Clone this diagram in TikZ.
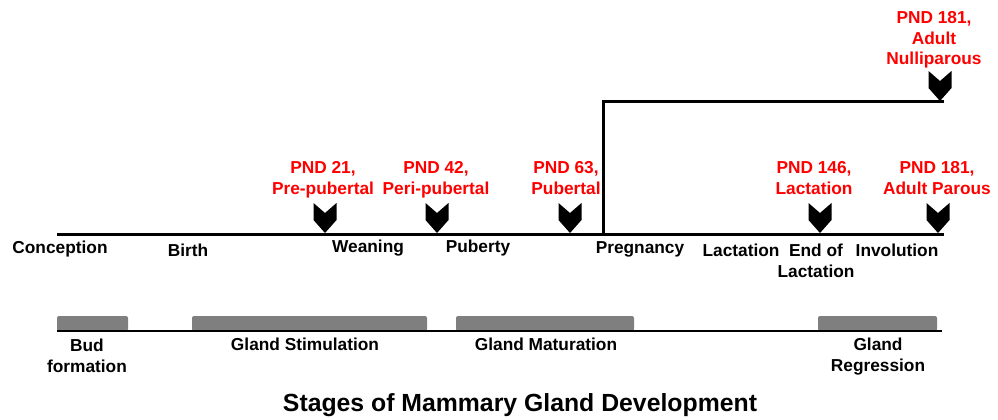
\documentclass[tikz,border=0pt]{standalone}
\usepackage{fontspec}
\setmainfont{Liberation Sans}
\definecolor{bargray}{HTML}{7F7F7F}
\tikzset{
  lbl/.style={font=\bfseries\fontsize{17.3}{20.5}\selectfont, align=center, inner sep=0pt, anchor=base},
  pnd/.style={lbl, text=red},
  ttl/.style={font=\bfseries\fontsize{24.8}{28}\selectfont, inner sep=0pt, anchor=base},
  axis/.style={line width=3pt},
  baseaxis/.style={line width=2.6pt},
  gbar/.style={fill=bargray, rounded corners=2pt},
  pics/chev/.style={code={\fill[black] (-11.5,0) -- (0,10) -- (11.5,0) -- (11.5,17) -- (0,30) -- (-11.5,17) -- cycle;}}
}
\begin{document}
\begin{tikzpicture}[x=1pt,y=-1pt]
\useasboundingbox (0,0) rectangle (998,420);
% timeline
\coordinate (tl0) at (57,234);
\coordinate (tl1) at (944,234);
\coordinate (pv) at (603,234);
\coordinate (pu) at (603,101);
\coordinate (up1) at (944,101);
\draw[axis] (tl0) -- (tl1);
\draw[axis, line join=miter] (pv) -- (pu) -- (up1);
% chevrons
\pic (c21) at (325,203) {chev};
\pic (c42) at (437,203) {chev};
\pic (c63) at (570,203) {chev};
\pic (c146) at (820,203) {chev};
\pic (c181p) at (938,203) {chev};
\pic (c181n) at (940,71) {chev};
% red labels (anchor = baseline of last line)
\node[pnd] (p21) at (323,194) {PND 21,\\Pre-pubertal};
\node[pnd] (p42) at (436,194) {PND 42,\\Peri-pubertal};
\node[pnd] (p63) at (566,194) {PND 63,\\Pubertal};
\node[pnd] (p146) at (814,194) {PND 146,\\Lactation};
\node[pnd] (p181p) at (937,194) {PND 181,\\Adult Parous};
\node[pnd] (p181n) at (934,65) {PND 181,\\Adult\\Nulliparous};
% black event labels
\node[lbl] (conc) at (60,253) {Conception};
\node[lbl] (birth) at (188,256) {Birth};
\node[lbl] (wean) at (368,252) {Weaning};
\node[lbl] (pub) at (478,252) {Puberty};
\node[lbl] (preg) at (640,253) {Pregnancy};
\node[lbl] (lact) at (741,256) {Lactation};
\node[lbl] (endl) at (816,277) {End of\\Lactation};
\node[lbl] (invol) at (897,256) {Involution};
% stage bars
\path[gbar] (57,316) rectangle (128,331);
\path[gbar] (192,316) rectangle (427,331);
\path[gbar] (456,316) rectangle (634,331);
\path[gbar] (818,316) rectangle (937,331);
\coordinate (bl0) at (57,331);
\coordinate (bl1) at (942,331);
\draw[baseaxis] (bl0) -- (bl1);
\node[lbl] (bud) at (87,372) {Bud\\formation};
\node[lbl] (stim) at (305,350) {Gland Stimulation};
\node[lbl] (mat) at (546,350) {Gland Maturation};
\node[lbl] (regr) at (878,371) {Gland\\Regression};
% title
\node[ttl] (title) at (520,411) {Stages of Mammary Gland Development};
\end{tikzpicture}
\end{document}
